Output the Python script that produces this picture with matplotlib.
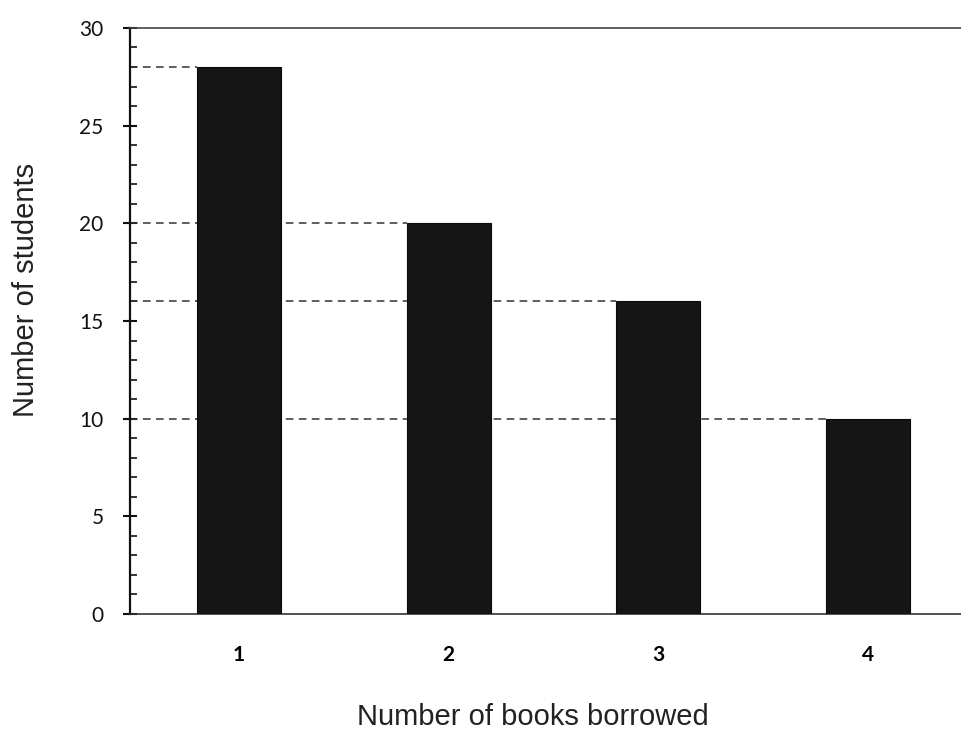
import matplotlib
matplotlib.use("Agg")
import matplotlib.pyplot as plt
from matplotlib.ticker import MultipleLocator

books = [1, 2, 3, 4]
students = [28, 20, 16, 10]
tick_labels = ["1", "2", "3", "4"]
y_ticks = [0, 5, 10, 15, 20, 25, 30]

fig = plt.figure(figsize=(9.61, 7.34), dpi=100)
ax = fig.add_axes([0.1353, 0.1635, 0.8647, 0.7984])

bar_w = 0.40
ax.bar(books, students, width=bar_w, color="#151515", edgecolor="#0a0a0a", linewidth=0.8, zorder=3)

x_left = 0.48
for b, v in zip(books, students):
    ax.plot([x_left, b - bar_w / 2], [v, v], linestyle=(0, (5, 3.5)), color="#333333", linewidth=1.1, zorder=2)

ax.set_xlim(x_left, 4.443)
ax.set_ylim(0, 30)
ax.set_xticks(books)
ax.set_xticklabels(tick_labels)
ax.set_yticks(y_ticks)
ax.yaxis.set_minor_locator(MultipleLocator(1))

ax.spines["right"].set_visible(False)
ax.spines["top"].set_color("#444444")
ax.spines["top"].set_linewidth(1.2)
ax.spines["left"].set_linewidth(1.6)
ax.spines["left"].set_color("#111111")
ax.spines["bottom"].set_color("#333333")
ax.spines["bottom"].set_linewidth(1.2)

ax.tick_params(axis="y", which="major", direction="inout", length=10, width=1.5, labelsize=15, pad=14, colors="#111111")
ax.tick_params(axis="y", which="minor", direction="in", length=5, width=1.2, colors="#111111")
ax.tick_params(axis="x", which="major", length=0, labelsize=15, pad=22)

for lab in ax.get_yticklabels() + ax.get_xticklabels():
    lab.set_fontfamily("Lato")
for lab in ax.get_xticklabels():
    lab.set_fontweight("bold")

fig.text(26 / 961, 1 - 290 / 734, "Number of students", rotation=90, fontsize=21,
         fontfamily="Liberation Sans", color="#222222", ha="center", va="center")
fig.text(533 / 961, 1 - 717 / 734, "Number of books borrowed", fontsize=21,
         fontfamily="Liberation Sans", color="#222222", ha="center", va="center")

fig.savefig("out.png", dpi=100)
